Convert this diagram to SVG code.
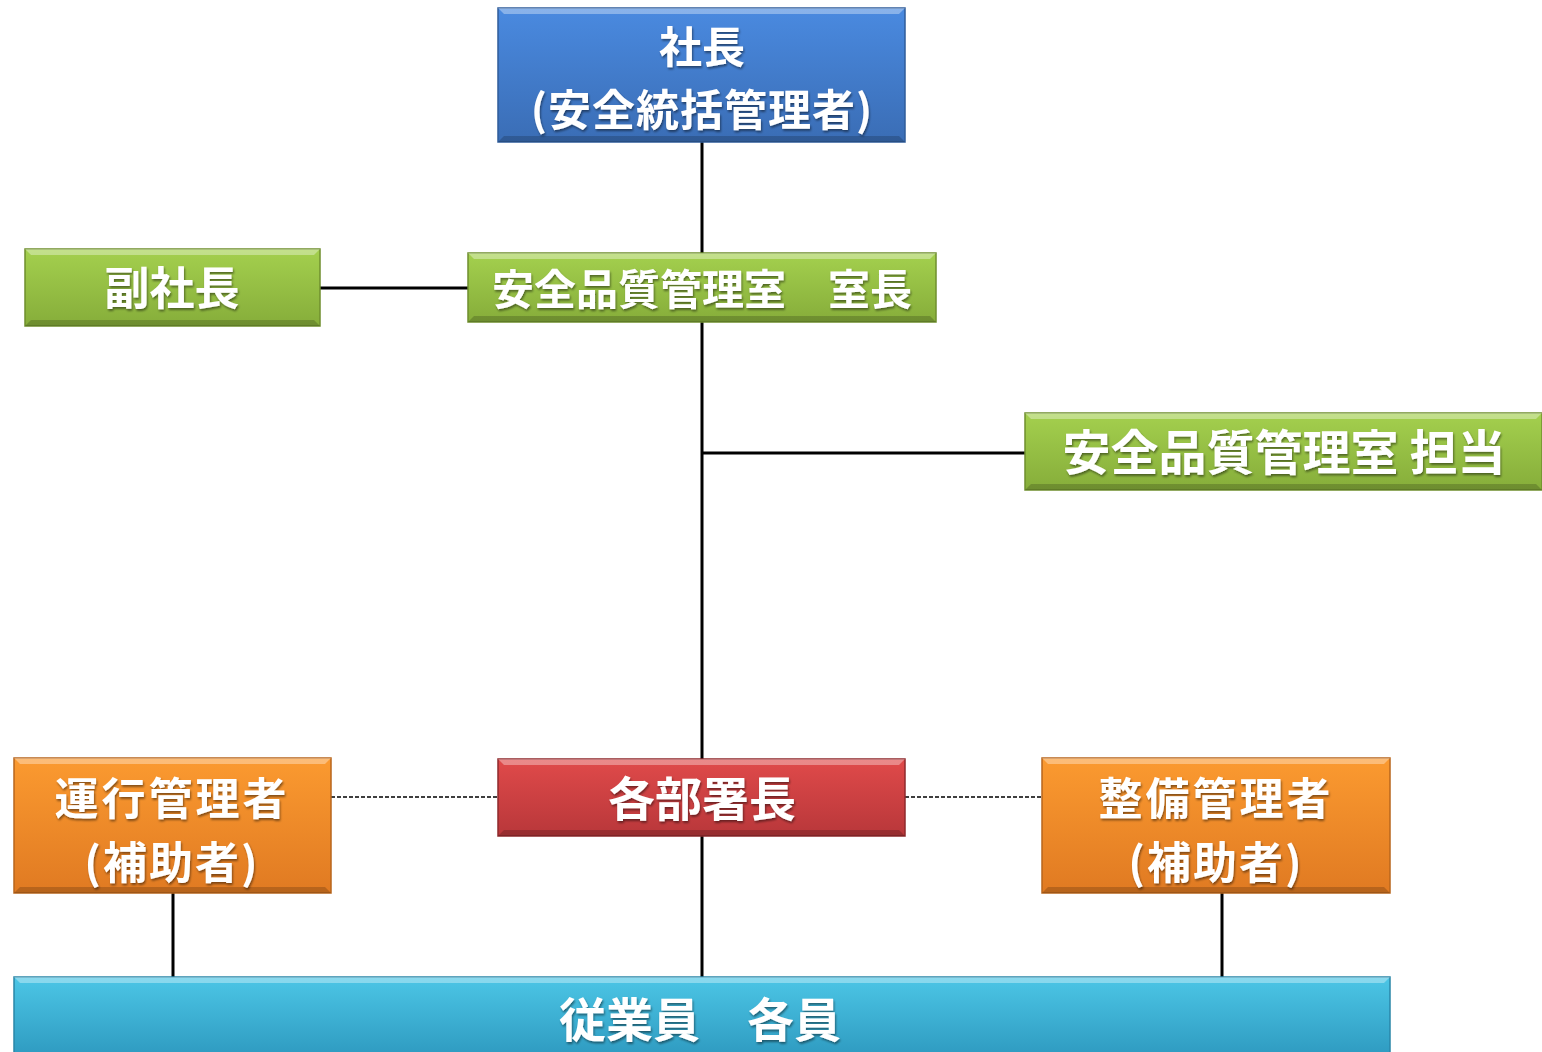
<svg xmlns="http://www.w3.org/2000/svg" width="1542" height="1052" viewBox="0 0 1542 1052">
<defs>
<linearGradient id="gBlue" x1="0" y1="0" x2="0" y2="1"><stop offset="0" stop-color="#4a8ae0"/><stop offset="1" stop-color="#3a6db5"/></linearGradient>
<linearGradient id="gGreen" x1="0" y1="0" x2="0" y2="1"><stop offset="0" stop-color="#a4d04e"/><stop offset="1" stop-color="#86ad3a"/></linearGradient>
<linearGradient id="gOrange" x1="0" y1="0" x2="0" y2="1"><stop offset="0" stop-color="#fb9a30"/><stop offset="1" stop-color="#e07a22"/></linearGradient>
<linearGradient id="gRed" x1="0" y1="0" x2="0" y2="1"><stop offset="0" stop-color="#e04a4a"/><stop offset="1" stop-color="#b8373a"/></linearGradient>
<linearGradient id="gCyan" x1="0" y1="0" x2="0" y2="1"><stop offset="0" stop-color="#4cc6e6"/><stop offset="1" stop-color="#2e9ac0"/></linearGradient>
<filter id="ts" x="-5%" y="-5%" width="110%" height="120%"><feDropShadow dx="1" dy="2" stdDeviation="1" flood-color="#000" flood-opacity="0.45"/></filter>
</defs>
<style>
.box{stroke-width:1.5}
.b{stroke:#2f5c9a}.g{stroke:#6f8f2e}.o{stroke:#b8661c}.r{stroke:#8f2a2c}.c{stroke:#2a86a8}
.hl{fill:#fff;opacity:0.35}
.sh{fill:#000;opacity:0.18}
.t{font-family:"Noto Sans CJK JP","Noto Sans CJK SC",sans-serif;font-weight:bold;fill:#fff;text-anchor:middle;filter:url(#ts)}
.ln{stroke:#000;stroke-width:3;fill:none}
.dl{stroke:#000;stroke-width:1.5;stroke-dasharray:4 2;fill:none}
</style>
<g id="connectors">
<path class="ln" d="M702 142V253M702 322V759M702 836V977M320 288H468M702 453H1025M173 893V977M1222 893V977"/>
<path class="dl" d="M331 797H498M905 797H1042"/>
</g>
<g id="president">
<rect class="box b" x="498" y="8" width="407" height="134" fill="url(#gBlue)"/>
<polygon class="hl" points="498,8 905,8 899,14 504,14"/>
<polygon class="sh" points="498,142 905,142 899,136 504,136"/>
<text class="t" x="702" y="63" font-size="43">社長</text>
<text class="t" x="702" y="126" font-size="43" letter-spacing="1">(安全統括管理者)</text>
</g>
<g id="vice-president">
<rect class="box g" x="25" y="249" width="295" height="77" fill="url(#gGreen)"/>
<polygon class="hl" points="25,249 320,249 314,255 31,255"/>
<polygon class="sh" points="25,326 320,326 314,320 31,320"/>
<text class="t" x="172" y="305" font-size="45">副社長</text>
</g>
<g id="safety-head">
<rect class="box g" x="468" y="253" width="468" height="69" fill="url(#gGreen)"/>
<polygon class="hl" points="468,253 936,253 930,259 474,259"/>
<polygon class="sh" points="468,322 936,322 930,316 474,316"/>
<text class="t" x="702" y="305" font-size="42">安全品質管理室　室長</text>
</g>
<g id="safety-staff">
<rect class="box g" x="1025" y="413" width="517" height="77" fill="url(#gGreen)"/>
<polygon class="hl" points="1025,413 1542,413 1536,419 1031,419"/>
<polygon class="sh" points="1025,490 1542,490 1536,484 1031,484"/>
<text class="t" x="1284" y="470" font-size="48">安全品質管理室 担当</text>
</g>
<g id="operations-manager">
<rect class="box o" x="14" y="758" width="317" height="135" fill="url(#gOrange)"/>
<polygon class="hl" points="14,758 331,758 325,764 20,764"/>
<polygon class="sh" points="14,893 331,893 325,887 20,887"/>
<text class="t" x="172" y="815" font-size="44" letter-spacing="3">運行管理者</text>
<text class="t" x="172" y="879" font-size="44" letter-spacing="2">(補助者)</text>
</g>
<g id="department-heads">
<rect class="box r" x="498" y="759" width="407" height="77" fill="url(#gRed)"/>
<polygon class="hl" points="498,759 905,759 899,765 504,765"/>
<polygon class="sh" points="498,836 905,836 899,830 504,830"/>
<text class="t" x="702" y="816" font-size="47">各部署長</text>
</g>
<g id="maintenance-manager">
<rect class="box o" x="1042" y="758" width="348" height="135" fill="url(#gOrange)"/>
<polygon class="hl" points="1042,758 1390,758 1384,764 1048,764"/>
<polygon class="sh" points="1042,893 1390,893 1384,887 1048,887"/>
<text class="t" x="1216" y="815" font-size="44" letter-spacing="3">整備管理者</text>
<text class="t" x="1216" y="879" font-size="44" letter-spacing="2">(補助者)</text>
</g>
<g id="employees">
<rect class="box c" x="14" y="977" width="1376" height="80" fill="url(#gCyan)"/>
<polygon class="hl" points="14,977 1390,977 1384,983 20,983"/>
<text class="t" x="700" y="1037" font-size="47">従業員　各員</text>
</g>
</svg>
